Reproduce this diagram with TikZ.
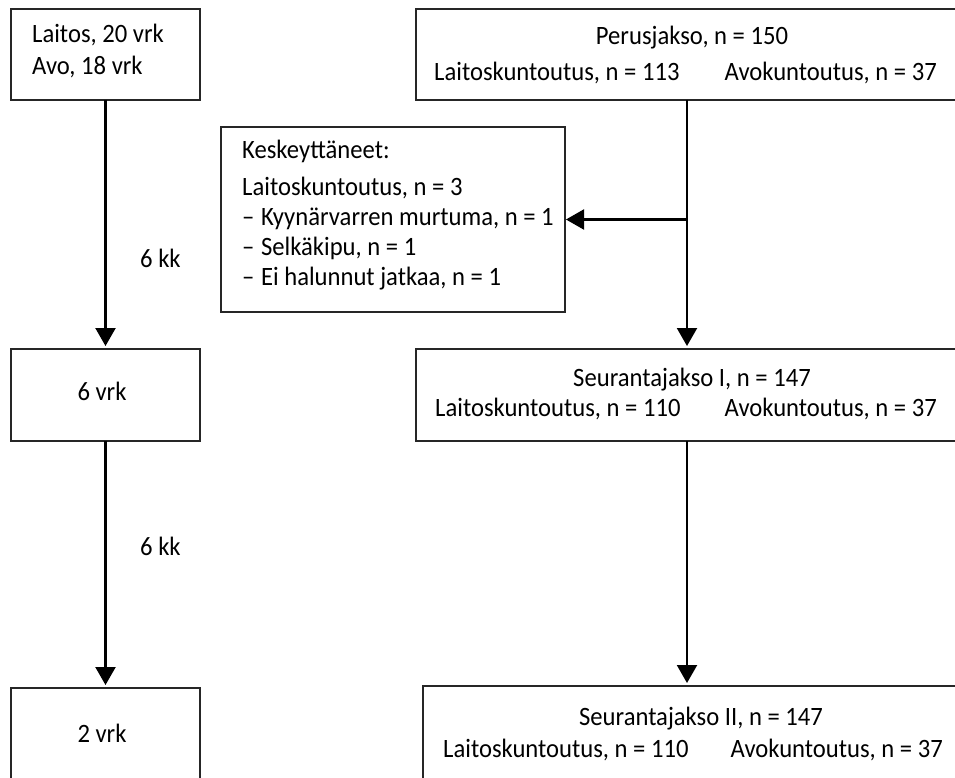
\documentclass[tikz,border=0pt]{standalone}
\usepackage{fontspec}
\setmainfont[FakeStretch=0.93]{Carlito}
\usetikzlibrary{arrows.meta}
\newcommand{\dashitem}{–\hspace{0.25em}}
\begin{document}
\begin{tikzpicture}[x=1pt,y=-1pt,
  box/.style={draw=black!85,line width=1.8pt,inner sep=0pt,outer sep=0pt},
  txt/.style={inner sep=0pt,font=\fontsize{26.5}{30}\selectfont},
  arr/.style={line width=2.2pt,-{Triangle[length=18pt,width=20pt]},shorten >=3pt},
]
\useasboundingbox (0,0) rectangle (955,778);
\clip (0,0) rectangle (955,778);
\fill[white] (0,0) rectangle (955,778);

% boxes
\node[box,minimum width=189pt,minimum height=91pt] (A) at (105.5,54.5) {};
\node[box,minimum width=542pt,minimum height=91pt] (B) at (687,54.5) {};
\node[box,minimum width=344pt,minimum height=185pt] (K) at (393,219.5) {};
\node[box,minimum width=189pt,minimum height=92pt] (C) at (105.5,395) {};
\node[box,minimum width=542pt,minimum height=92pt] (S1) at (687,395) {};
\node[box,minimum width=189pt,minimum height=112pt] (D) at (105.5,744) {};
\node[box,minimum width=557pt,minimum height=114pt] (S2) at (701.5,743) {};

% texts
\node[txt,anchor=base west] (a1) at (32,43) {Laitos, 20 vrk};
\node[txt,anchor=base west] (a2) at (32,75) {Avo, 18 vrk};

\node[txt,anchor=base] (b1) at (692,45) {Perusjakso, n = 150};
\node[txt,anchor=base west] (b2) at (434,81) {Laitoskuntoutus, n = 113};
\node[txt,anchor=base east] (b3) at (937,81) {Avokuntoutus, n = 37};

\node[txt,anchor=base west] (k1) at (242,159) {Keskeyttäneet:};
\node[txt,anchor=base west] (k2) at (242,196) {Laitoskuntoutus, n = 3};
\node[txt,anchor=base west] (k3) at (242,225) {\dashitem Kyynärvarren murtuma, n = 1};
\node[txt,anchor=base west] (k4) at (242,255) {\dashitem Selkäkipu, n = 1};
\node[txt,anchor=base west] (k5) at (242,285) {\dashitem Ei halunnut jatkaa, n = 1};

\node[txt] (c1) at (102,391) {6 vrk};
\node[txt,anchor=base] (s11) at (692,386) {Seurantajakso I, n = 147};
\node[txt,anchor=base west] (s12) at (435,416) {Laitoskuntoutus, n = 110};
\node[txt,anchor=base east] (s13) at (937,416) {Avokuntoutus, n = 37};

\node[txt] (d1) at (102,733) {2 vrk};
\node[txt,anchor=base] (s21) at (701,725) {Seurantajakso II, n = 147};
\node[txt,anchor=base west] (s22) at (443,757) {Laitoskuntoutus, n = 110};
\node[txt,anchor=base east] (s23) at (943,757) {Avokuntoutus, n = 37};

% labels
\node[txt,anchor=west] (l1) at (140,258) {6 kk};
\node[txt,anchor=west] (l2) at (140,546) {6 kk};

% connectors
\draw[arr] (A.south) -- (C.north);
\draw[arr] (C.south) -- (D.north);
\draw[arr] (B.south) -- (S1.north);
\draw[arr] (S1.south) -- (S1.south |- S2.north);
\coordinate (j) at (K.east -| B.south);
\draw[arr,shorten >=1pt] (j) -- (K.east);
\end{tikzpicture}
\end{document}
